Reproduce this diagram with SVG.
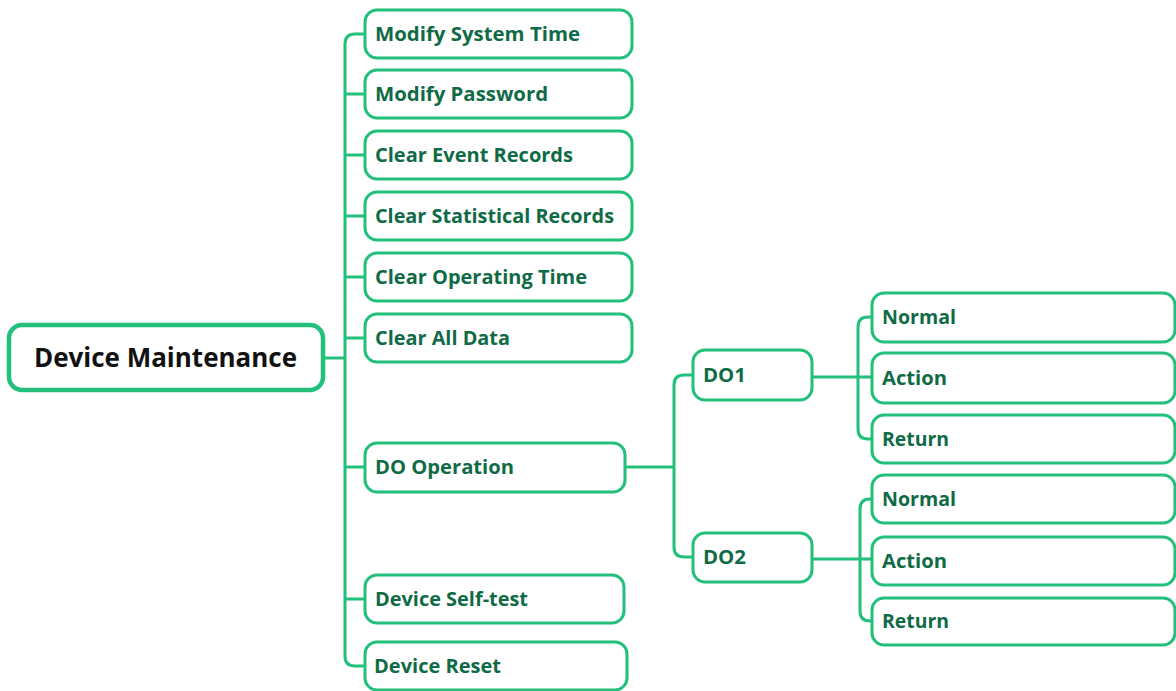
<svg xmlns="http://www.w3.org/2000/svg" width="1176" height="691" viewBox="0 0 1176 691">
<style>
.box{fill:#fff;stroke:#22c07a;stroke-width:3}
.root{fill:#fff;stroke:#22c07a;stroke-width:4.5}
.lbl{font-family:"Open Sans","Liberation Sans",sans-serif;font-weight:bold;font-size:20px;fill:#0f6b45}
.rlbl{font-family:"Open Sans","Liberation Sans",sans-serif;font-weight:bold;font-size:26px;fill:#111}
.con{fill:none;stroke:#22c07a;stroke-width:3}
</style>
<rect width="1176" height="691" fill="#fff"/>
<g id="connectors">
<path class="con" d="M323 358H345"/>
<path class="con" d="M365 34H355Q345 34 345 44V656Q345 666 355 666H365"/>
<path class="con" d="M345 94H365M345 155H365M345 216H365M345 277H365M345 338H365M345 467H365M345 599H365"/>
<path class="con" d="M625 467H674"/>
<path class="con" d="M693 375H684Q674 375 674 385V547Q674 557 684 557H693"/>
<path class="con" d="M812 377H872"/>
<path class="con" d="M872 317H868Q858 317 858 327V429Q858 439 868 439H872"/>
<path class="con" d="M812 559H872"/>
<path class="con" d="M872 499H870Q860 499 860 509V611Q860 621 870 621H872"/>
</g>
<g id="root"><rect class="root" x="9" y="325" width="314" height="65" rx="13"/><text class="rlbl" x="34" y="367" textLength="263" lengthAdjust="spacingAndGlyphs">Device Maintenance</text></g>
<g id="n1"><rect class="box" x="365" y="10" width="267" height="48" rx="12"/><text class="lbl" x="375" y="41" textLength="205" lengthAdjust="spacingAndGlyphs">Modify System Time</text></g>
<g id="n2"><rect class="box" x="365" y="70" width="267" height="48" rx="12"/><text class="lbl" x="375" y="101" textLength="173" lengthAdjust="spacingAndGlyphs">Modify Password</text></g>
<g id="n3"><rect class="box" x="365" y="131" width="267" height="48" rx="12"/><text class="lbl" x="375" y="162" textLength="198" lengthAdjust="spacingAndGlyphs">Clear Event Records</text></g>
<g id="n4"><rect class="box" x="365" y="192" width="267" height="48" rx="12"/><text class="lbl" x="375" y="223" textLength="239" lengthAdjust="spacingAndGlyphs">Clear Statistical Records</text></g>
<g id="n5"><rect class="box" x="365" y="253" width="267" height="48" rx="12"/><text class="lbl" x="375" y="284" textLength="212" lengthAdjust="spacingAndGlyphs">Clear Operating Time</text></g>
<g id="n6"><rect class="box" x="365" y="314" width="267" height="48" rx="12"/><text class="lbl" x="375" y="345" textLength="135" lengthAdjust="spacingAndGlyphs">Clear All Data</text></g>
<g id="n7"><rect class="box" x="365" y="443" width="260" height="49" rx="12"/><text class="lbl" x="375" y="474" textLength="139" lengthAdjust="spacingAndGlyphs">DO Operation</text></g>
<g id="n8"><rect class="box" x="365" y="575" width="259" height="48" rx="12"/><text class="lbl" x="375" y="606" textLength="153" lengthAdjust="spacingAndGlyphs">Device Self-test</text></g>
<g id="n9"><rect class="box" x="365" y="642" width="262" height="48" rx="12"/><text class="lbl" x="374" y="673" textLength="127" lengthAdjust="spacingAndGlyphs">Device Reset</text></g>
<g id="do1"><rect class="box" x="693" y="350" width="119" height="50" rx="12"/><text class="lbl" x="703" y="382" textLength="43" lengthAdjust="spacingAndGlyphs">DO1</text></g>
<g id="do2"><rect class="box" x="693" y="533" width="119" height="49" rx="12"/><text class="lbl" x="703" y="564" textLength="43" lengthAdjust="spacingAndGlyphs">DO2</text></g>
<g id="normal1"><rect class="box" x="872" y="293" width="303" height="49" rx="12"/><text class="lbl" x="882" y="324" textLength="74" lengthAdjust="spacingAndGlyphs">Normal</text></g>
<g id="action1"><rect class="box" x="872" y="353" width="303" height="50" rx="12"/><text class="lbl" x="882" y="385" textLength="65" lengthAdjust="spacingAndGlyphs">Action</text></g>
<g id="return1"><rect class="box" x="872" y="415" width="303" height="48" rx="12"/><text class="lbl" x="882" y="446" textLength="67" lengthAdjust="spacingAndGlyphs">Return</text></g>
<g id="normal2"><rect class="box" x="872" y="475" width="303" height="48" rx="12"/><text class="lbl" x="882" y="506" textLength="74" lengthAdjust="spacingAndGlyphs">Normal</text></g>
<g id="action2"><rect class="box" x="872" y="537" width="303" height="48" rx="12"/><text class="lbl" x="882" y="568" textLength="65" lengthAdjust="spacingAndGlyphs">Action</text></g>
<g id="return2"><rect class="box" x="872" y="598" width="303" height="47" rx="12"/><text class="lbl" x="882" y="628" textLength="67" lengthAdjust="spacingAndGlyphs">Return</text></g>
</svg>
